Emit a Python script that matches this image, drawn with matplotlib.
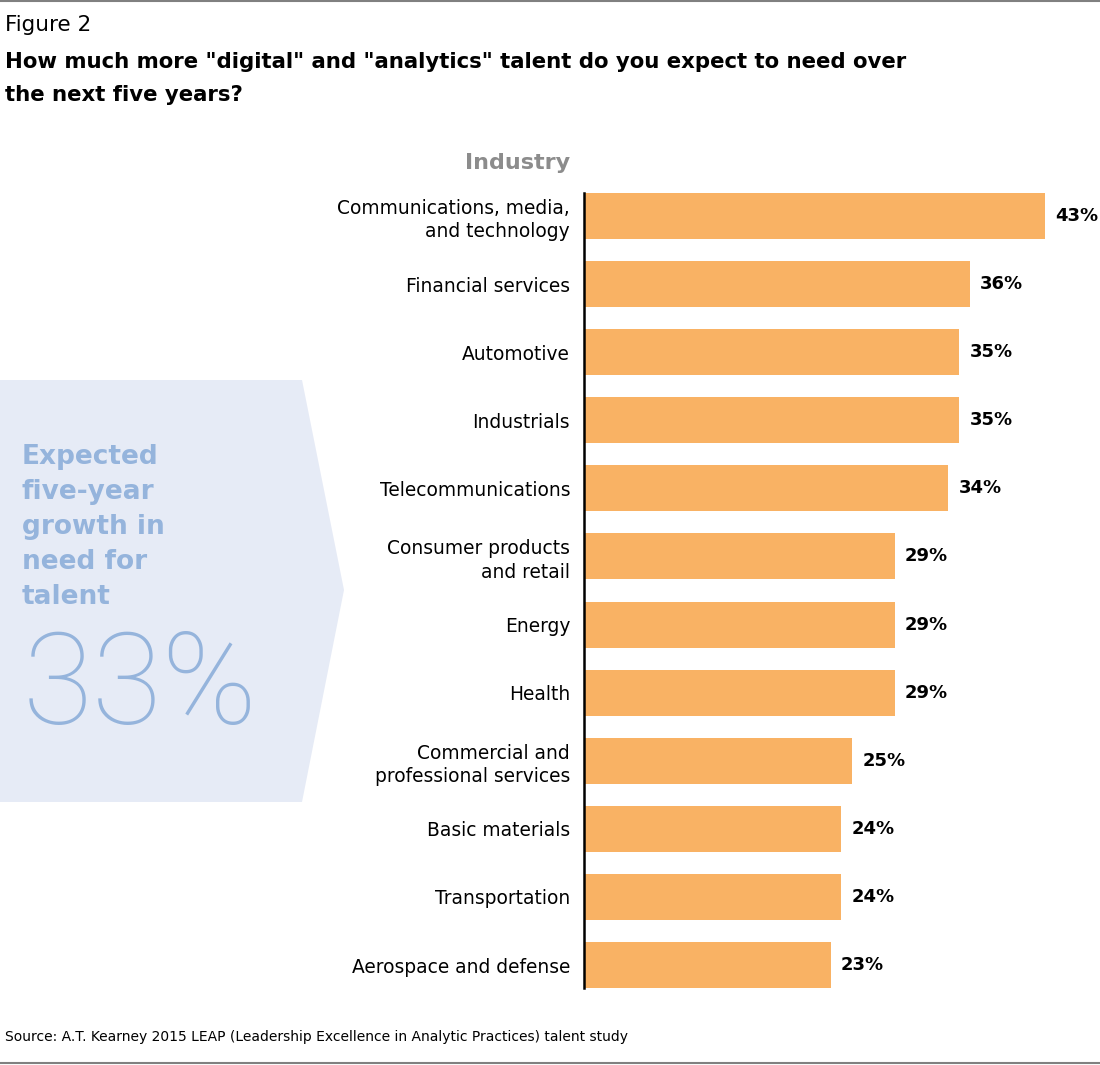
import numpy as np
import matplotlib.pyplot as plt
from matplotlib.patches import Polygon

industries = [
    "Communications, media,\nand technology",
    "Financial services",
    "Automotive",
    "Industrials",
    "Telecommunications",
    "Consumer products\nand retail",
    "Energy",
    "Health",
    "Commercial and\nprofessional services",
    "Basic materials",
    "Transportation",
    "Aerospace and defense",
]
growth_pct = [43, 36, 35, 35, 34, 29, 29, 29, 25, 24, 24, 23]
overall_pct = 33

W, H = 1100, 1065
BAR_COLOR = "#f9b264"
PANEL_COLOR = "#e6ebf6"
PANEL_TEXT = "#95b4dc"

fig = plt.figure(figsize=(W / 100, H / 100), dpi=100)

# background layer in pixel coordinates
bg = fig.add_axes([0, 0, 1, 1])
bg.set_xlim(0, W)
bg.set_ylim(H, 0)
bg.axis("off")

bg.plot([0, W], [1, 1], color="#808080", lw=1.5)
bg.plot([0, W], [1063, 1063], color="#808080", lw=1.5)

bg.text(5, 25, "Figure 2", fontsize=15.5, va="center", ha="left", color="black")
bg.text(5, 62, 'How much more "digital" and "analytics" talent do you expect to need over',
        fontsize=15.3, fontweight="bold", va="center", ha="left")
bg.text(5, 95, "the next five years?", fontsize=15.3, fontweight="bold", va="center", ha="left")

bg.text(570, 163, "Industry", fontsize=16, fontweight="bold", color="#8c8c8c",
        va="center", ha="right")

panel = Polygon([[0, 380], [302, 380], [344, 590], [302, 802], [0, 802]],
                closed=True, facecolor=PANEL_COLOR, edgecolor="none")
bg.add_patch(panel)
for i, line in enumerate(["Expected", "five-year", "growth in", "need for", "talent"]):
    bg.text(22, 457 + i * 35, line, fontsize=19, fontweight="bold", color=PANEL_TEXT,
            va="center", ha="left")
bg.text(23, 724, f"{overall_pct}%", fontsize=92, fontweight="light", family=["Roboto", "DejaVu Sans"],
        color=PANEL_TEXT, va="baseline", ha="left")

bg.text(5, 1037, "Source: A.T. Kearney 2015 LEAP (Leadership Excellence in Analytic Practices) talent study",
        fontsize=10, va="center", ha="left")

# bar chart
left, right = 584, W
top, bottom = 193, 988
ax = fig.add_axes([left / W, 1 - bottom / H, (right - left) / W, (bottom - top) / H])
bar_h = 0.675
y = np.arange(len(industries))
ax.barh(y, growth_pct, height=bar_h, color=BAR_COLOR, left=0)
ax.set_xlim(0, (right - left) / 10.72)
ax.set_ylim(len(industries) - 1 + bar_h / 2, -bar_h / 2)
for yi, v in zip(y, growth_pct):
    ax.text(v + 0.95, yi, f"{v}%", fontsize=13, fontweight="bold", va="center", ha="left")
ax.set_yticks(y)
ax.set_yticklabels(industries, fontsize=13.4, linespacing=1.3, ha="right")
ax.tick_params(axis="y", length=0, pad=10)
ax.set_xticks([])
for s in ["top", "right", "bottom"]:
    ax.spines[s].set_visible(False)
ax.spines["left"].set_linewidth(1.8)
ax.patch.set_alpha(0)

plt.savefig("out.png", dpi=100)
plt.close()
